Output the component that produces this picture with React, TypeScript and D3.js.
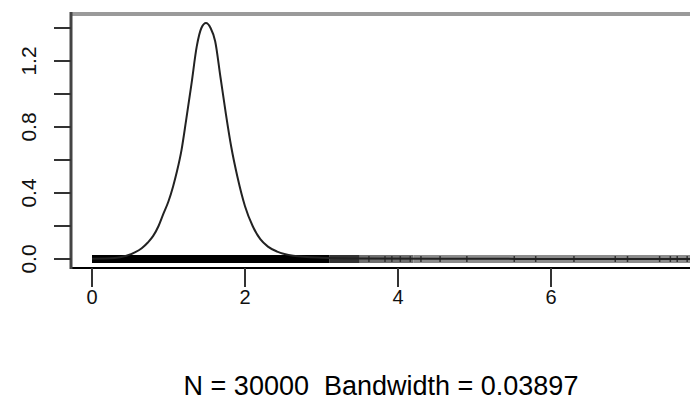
import React from "react";
import * as d3 from "d3";

// Density estimate (x, density)
const densX = [0.0, 0.3, 0.45, 0.56, 0.65, 0.73, 0.8, 0.87, 0.93, 1.0, 1.06, 1.11, 1.17, 1.23, 1.3, 1.37, 1.43, 1.49, 1.55, 1.61, 1.68, 1.75, 1.82, 1.9, 2.0, 2.1, 2.2, 2.3, 2.42, 2.63, 3.0, 3.5, 4.5, 6.0, 7.9];
const densY = [0.002, 0.006, 0.02, 0.04, 0.065, 0.1, 0.14, 0.2, 0.27, 0.35, 0.44, 0.53, 0.66, 0.84, 1.06, 1.29, 1.4, 1.43, 1.4, 1.32, 1.1, 0.88, 0.68, 0.5, 0.32, 0.2, 0.12, 0.075, 0.045, 0.02, 0.008, 0.003, 0.0012, 0.0006, 0.0];

// Rug: dense ranges and isolated ticks
const rugFrom = [0.0, 3.1, 3.5, 4.2];
const rugTo = [3.1, 3.5, 4.2, 7.85];
const rugShade = ["#000000", "#333333", "#707070", "#8c8c8c"];
const rugTicks = [3.62, 3.83, 3.92, 4.03, 4.16, 4.3, 4.55, 4.9, 5.52, 5.8, 6.3, 6.84, 7.0, 7.42, 7.56, 7.65, 7.78];

const xTicks = [0, 2, 4, 6];
const yTicks = [0, 0.2, 0.4, 0.6, 0.8, 1.0, 1.2, 1.4];
const yLabels = ["0.0", "0.4", "0.8", "1.2"];
const yLabelVals = [0, 0.4, 0.8, 1.2];
const subtitle = "N = 30000  Bandwidth = 0.03897";

export default function App() {
  const W = 690, H = 401;
  const x = d3.scaleLinear().domain([0, 6]).range([92, 551]);
  const y = d3.scaleLinear().domain([0, 1.4]).range([259, 28]);
  const boxL = 71, boxT = 14, boxB = 268, boxR = 730;
  const pts = densX.map((v, i) => [v, densY[i]] as [number, number]);
  const line = d3.line<[number, number]>().x(d => x(d[0])).y(d => y(d[1])).curve(d3.curveMonotoneX);
  const font = "'Liberation Sans', Arial, Helvetica, sans-serif";
  return (
    <svg width={W} height={H} style={{ position: "absolute", left: 0, top: 0, background: "#fff" }}>
      <rect x={0} y={0} width={W} height={H} fill="#fff" />
      {/* rug bands */}
      {rugFrom.map((f, i) => (
        <rect key={"rb" + i} x={x(f)} y={255} width={x(rugTo[i]) - x(f)} height={8} fill={rugShade[i]} />
      ))}
      {rugTicks.map((t, i) => (
        <line key={"rt" + i} x1={x(t)} x2={x(t)} y1={256} y2={262} stroke="#333" strokeWidth={1.5} />
      ))}
      {/* density curve */}
      <path d={line(pts) || ""} fill="none" stroke="#222" strokeWidth={2} />
      {/* box */}
      <line x1={boxL} x2={boxR} y1={boxT} y2={boxT} stroke="#9a9a9a" strokeWidth={4} />
      <line x1={boxL} x2={boxR} y1={boxB} y2={boxB} stroke="#000" strokeWidth={2} />
      <line x1={boxL} x2={boxL} y1={boxT - 2} y2={boxB + 1} stroke="#444" strokeWidth={3} />
      {/* y ticks */}
      {yTicks.map((t, i) => (
        <line key={"yt" + i} x1={54} x2={boxL} y1={y(t)} y2={y(t)} stroke="#333" strokeWidth={2} />
      ))}
      {yLabelVals.map((v, i) => (
        <text key={"yl" + i} transform={`translate(36,${y(v)}) rotate(-90)`} textAnchor="middle"
          fontFamily={font} fontSize={21} fill="#111">{yLabels[i]}</text>
      ))}
      {/* x ticks */}
      {xTicks.map((t, i) => (
        <g key={"xt" + i}>
          <line x1={x(t)} x2={x(t)} y1={boxB} y2={287} stroke="#333" strokeWidth={2} />
          <text x={x(t)} y={304} textAnchor="middle" fontFamily={font} fontSize={20} fill="#111">{t}</text>
        </g>
      ))}
      <text x={381} y={395} textAnchor="middle" fontFamily={font} fontSize={27} fill="#000" xmlSpace="preserve">{subtitle}</text>
    </svg>
  );
}
